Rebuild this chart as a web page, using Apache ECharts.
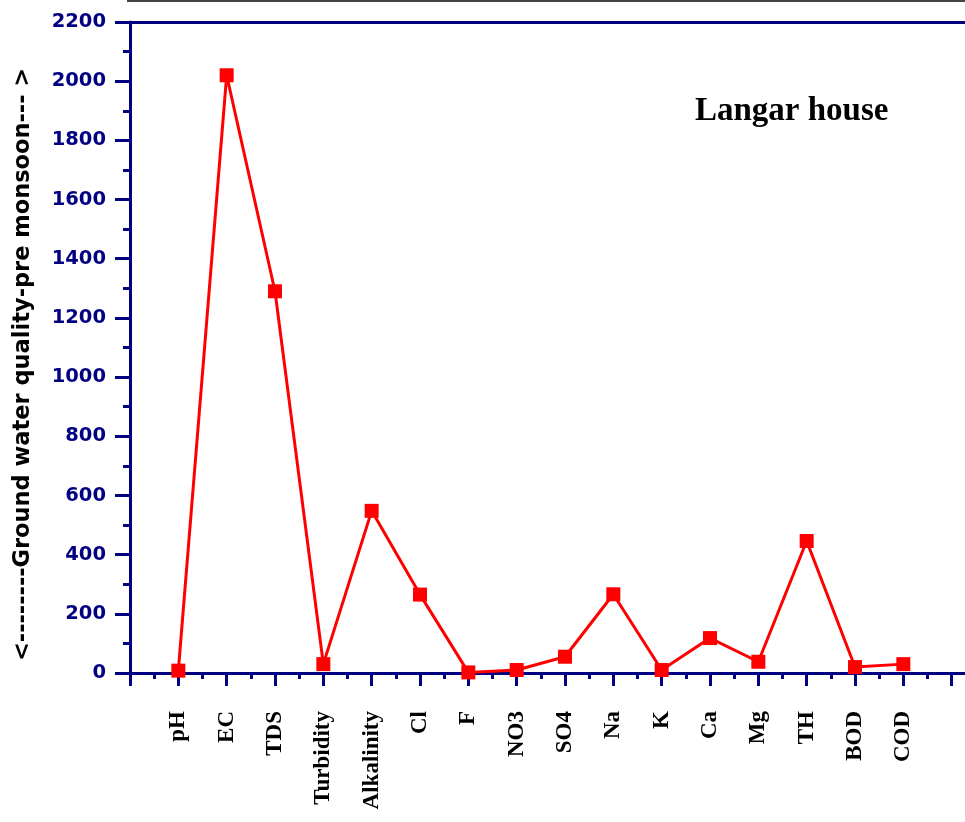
<!DOCTYPE html>
<html>
<head>
<meta charset="utf-8">
<script src="https://cdn.jsdelivr.net/npm/echarts@6/dist/echarts.min.js"></script>
<style>
  html, body { margin: 0; padding: 0; background: #fff; }
  #chart { width: 965px; height: 822px; }
</style>
</head>
<body>
<div id="chart"></div>
<script>
// parameters along the x axis (placed at 1..16)
const categories = ['pH', 'EC', 'TDS', 'Turbidity', 'Alkalinity', 'Cl', 'F', 'NO3',
  'SO4', 'Na', 'K', 'Ca', 'Mg', 'TH', 'BOD', 'COD']
// values
const values = [8, 2020, 1290, 30, 548, 265, 2, 10, 55, 266, 10, 118, 38, 446, 20, 30]
const yTicks = [0, 2200, 200]

const navy = '#000080'
const chart = echarts.init(document.getElementById('chart'))

const option = {
  animation: false,
  backgroundColor: '#fff',
  title: {
    text: 'Langar house',
    left: 690,
    top: 90,
    textStyle: {
      fontFamily: 'Liberation Serif',
      fontWeight: 'bold',
      fontSize: 33,
      color: '#000',
    },
  },
  grid: {
    left: 130,
    top: 22,
    bottom: 149,
    width: 870,
    outerBoundsMode: 'none',
  },
  xAxis: [
    {
      type: 'value',
      min: 0,
      max: 18,
      interval: 1,
      position: 'bottom',
      splitLine: { show: false },
      axisLine: { lineStyle: { color: navy, width: 3 } },
      axisTick: { inside: false, length: 13, lineStyle: { color: navy, width: 3 } },
      minorTick: { show: true, splitNumber: 2, length: 6, lineStyle: { color: navy, width: 3 } },
      axisLabel: {
        rotate: 90,
        margin: 38,
        fontFamily: 'Liberation Serif',
        fontWeight: 'bold',
        fontSize: 23,
        color: '#000',
        formatter: (v) => categories[v - 1] || '',
      },
    },
    {
      type: 'value',
      min: 0,
      max: 18,
      position: 'top',
      splitLine: { show: false },
      axisLine: { lineStyle: { color: navy, width: 3 } },
      axisTick: { show: false },
      axisLabel: { show: false },
    },
  ],
  yAxis: {
    type: 'value',
    min: yTicks[0],
    max: yTicks[1],
    interval: yTicks[2],
    splitLine: { show: false },
    axisLine: { show: true, lineStyle: { color: navy, width: 3 } },
    axisTick: { show: true, inside: false, length: 15, lineStyle: { color: navy, width: 3 } },
    minorTick: { show: true, splitNumber: 2, length: 7, lineStyle: { color: navy, width: 3 } },
    axisLabel: {
      margin: 24,
      fontFamily: 'DejaVu Sans',
      fontWeight: 'bold',
      fontSize: 19.5,
      color: navy,
      formatter: (v) => String(v),
    },
  },
  graphic: [
    {
      type: 'text',
      x: 12,
      y: 661,
      rotation: Math.PI / 2,
      style: {
        text: '<--------Ground water quality-pre monsoon--- >',
        fontFamily: 'DejaVu Sans',
        fontWeight: 'bold',
        fontSize: 22.5,
        fill: '#000',
        textAlign: 'left',
        textVerticalAlign: 'top',
      },
    },
    {
      type: 'line',
      shape: { x1: 127, y1: 1, x2: 965, y2: 1 },
      style: { stroke: '#444', lineWidth: 2 },
    },
  ],
  series: [
    {
      type: 'line',
      xAxisIndex: 0,
      data: categories.map((c, i) => [i + 1, values[i]]),
      symbol: 'rect',
      symbolSize: 14,
      itemStyle: { color: '#ff0000' },
      lineStyle: { color: '#ff0000', width: 3 },
    },
  ],
}

chart.setOption(option)
</script>
</body>
</html>
